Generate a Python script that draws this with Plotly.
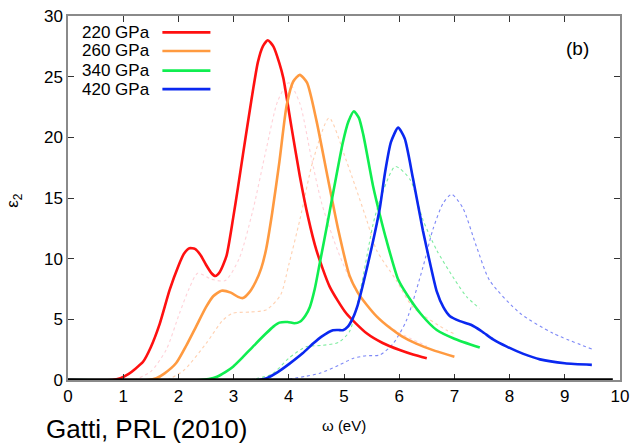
import plotly.graph_objects as go

# Solid curves: epsilon_2 vs photon energy for each pressure
red_x = [0, 0.8, 0.95, 1.1, 1.2, 1.36, 1.5, 1.66, 1.84, 2.0, 2.1, 2.2, 2.3, 2.4, 2.5, 2.6, 2.67, 2.75, 2.87, 2.99,
         3.08, 3.17, 3.32, 3.44, 3.53, 3.62, 3.72, 3.83, 3.9, 4.05, 4.2, 4.35, 4.5, 4.74, 5.04, 5.41, 5.7, 6.01, 6.25, 6.5]
red_y = [0, 0, 0.15, 0.5, 0.85, 1.5, 2.7, 4.6, 7.4, 9.4, 10.4, 10.86, 10.8, 10.3, 9.5, 8.8, 8.57, 8.9, 10.2, 13.3,
         15.9, 18.6, 23.0, 26.2, 27.5, 28.0, 27.5, 26.1, 24.9, 20.8, 16.8, 13.4, 10.7, 7.7, 5.5, 3.85, 3.05, 2.47, 2.1, 1.79]

orange_x = [0, 1.45, 1.6, 1.75, 1.96, 2.15, 2.32, 2.5, 2.63, 2.78, 2.95, 3.08, 3.17, 3.28, 3.4, 3.5, 3.59, 3.7, 3.83,
            3.96, 4.08, 4.2, 4.33, 4.5, 4.7, 4.9, 5.1, 5.25, 5.41, 5.6, 5.83, 6.05, 6.31, 6.65, 7.0]
orange_y = [0, 0, 0.15, 0.55, 1.4, 2.9, 4.4, 6.0, 6.9, 7.36, 7.2, 6.85, 6.75, 7.2, 8.1, 9.2, 10.8, 13.8, 18.0,
            22.6, 24.6, 25.15, 24.5, 21.4, 16.8, 12.3, 8.6, 7.2, 6.2, 5.2, 4.3, 3.6, 3.0, 2.4, 1.92]

green_x = [0, 2.4, 2.55, 2.7, 2.85, 2.99, 3.17, 3.35, 3.59, 3.72, 3.83, 3.98, 4.1, 4.2, 4.3, 4.38, 4.47, 4.56, 4.72,
           4.86, 4.98, 5.08, 5.18, 5.27, 5.35, 5.53, 5.65, 5.77, 5.98, 6.16, 6.4, 6.68, 7.0, 7.46]
green_y = [0, 0, 0.08, 0.27, 0.65, 1.1, 1.9, 2.75, 3.85, 4.4, 4.73, 4.78, 4.68, 4.8, 5.3, 6.0, 7.5, 9.6, 13.4,
           16.8, 19.6, 21.3, 22.15, 21.6, 20.2, 15.9, 13.6, 11.5, 8.3, 6.9, 5.4, 4.12, 3.4, 2.67]

blue_x = [0, 3.45, 3.6, 3.8, 4.02, 4.25, 4.44, 4.6, 4.8, 4.9, 4.98, 5.07, 5.16, 5.25, 5.35, 5.5, 5.65, 5.74, 5.85,
          5.98, 6.1, 6.25, 6.43, 6.55, 6.68, 6.8, 6.92, 7.1, 7.3, 7.5, 7.7, 7.95, 8.25, 8.55, 9.0, 9.49]
blue_y = [0, 0, 0.15, 0.65, 1.37, 2.2, 3.0, 3.6, 4.1, 4.12, 4.1, 4.4, 5.1, 6.2, 7.97, 10.9, 14.2, 17.0, 19.6,
          20.8, 19.9, 16.6, 12.3, 9.8, 7.3, 6.0, 5.25, 4.85, 4.55, 4.0, 3.35, 2.75, 2.15, 1.7, 1.38, 1.25]

# Dotted companion curves
red_dot_x = [1.2, 1.5, 1.78, 2.02, 2.2, 2.35, 2.6, 2.85, 3.1, 3.35, 3.59, 3.8, 4.0, 4.2, 4.4, 4.6, 4.9, 5.2, 5.6, 6.0, 6.5]
red_dot_y = [0, 0.7, 2.5, 5.5, 7.6, 8.8, 8.3, 8.2, 10.0, 14.0, 19.0, 23.0, 24.5, 22.8, 18.5, 14.5, 10.5, 7.5, 5.2, 3.9, 2.8]

orange_dot_x = [1.8, 2.1, 2.5, 2.8, 2.98, 3.3, 3.6, 3.85, 4.0, 4.2, 4.44, 4.73, 5.04, 5.41, 5.59, 5.95, 6.25, 6.86, 7.0]
orange_dot_y = [0, 0.8, 3.0, 4.9, 5.5, 5.6, 5.8, 7.0, 9.5, 13.2, 18.1, 21.6, 18.1, 13.2, 10.7, 8.2, 6.0, 4.1, 3.8]

green_dot_x = [3.3, 3.7, 4.0, 4.32, 4.6, 4.9, 5.1, 5.3, 5.53, 5.65, 5.93, 6.2, 6.43, 6.68, 7.0, 7.22, 7.46]
green_dot_y = [0, 0.5, 1.8, 2.75, 2.85, 3.1, 4.0, 7.5, 12.9, 14.8, 17.6, 16.5, 13.2, 10.7, 8.3, 6.87, 5.9]

blue_dot_x = [3.9, 4.3, 4.56, 4.9, 5.16, 5.4, 5.65, 5.89, 6.13, 6.43, 6.61, 6.8, 6.95, 7.15, 7.4, 7.64, 8.19, 8.79, 9.49]
blue_dot_y = [0, 0.3, 0.55, 1.2, 1.78, 2.0, 2.06, 3.0, 4.9, 9.3, 12.4, 14.6, 15.3, 14.2, 11.0, 8.2, 5.5, 3.85, 2.55]

labels = ["220 GPa", "260 GPa", "340 GPa", "420 GPa"]
colors = ["#ff1010", "#ff9a40", "#10ee50", "#0a28f0"]
dot_colors = ["rgba(255,70,100,0.25)", "rgba(255,150,80,0.45)", "rgba(20,220,80,0.55)", "rgba(20,40,240,0.55)"]

x_ticks = list(range(0, 11))
y_ticks = [0, 5, 10, 15, 20, 25, 30]

FONT = "Liberation Sans, Arial, sans-serif"

fig = go.Figure()

dotted = [(red_dot_x, red_dot_y), (orange_dot_x, orange_dot_y),
          (green_dot_x, green_dot_y), (blue_dot_x, blue_dot_y)]
for (xs, ys), c in zip(dotted, dot_colors):
    fig.add_trace(go.Scatter(x=xs, y=ys, mode="lines",
                             line=dict(color=c, width=1.1, dash="dot", shape="spline", smoothing=0.7),
                             showlegend=False, hoverinfo="skip"))

solid = [(red_x, red_y), (orange_x, orange_y), (green_x, green_y), (blue_x, blue_y)]
for (xs, ys), c, lab in zip(solid, colors, labels):
    fig.add_trace(go.Scatter(x=xs, y=ys, mode="lines", name=lab,
                             line=dict(color=c, width=2.6, shape="spline", smoothing=0.6),
                             showlegend=False))

shapes = [
    # thick baseline at zero
    dict(type="line", xref="x", yref="y", x0=0, x1=9.87, y0=0, y1=0,
         line=dict(color="black", width=3.5), layer="above"),
]

annotations = []
leg_y = [0.955, 0.904, 0.850, 0.799]
for lab, c, yy in zip(labels, colors, leg_y):
    annotations.append(dict(xref="paper", yref="paper", x=0.152, y=yy, text=lab,
                            showarrow=False, xanchor="right", yanchor="middle",
                            font=dict(family=FONT, size=17, color="black")))
    shapes.append(dict(type="line", xref="paper", yref="paper", x0=0.171, x1=0.258,
                       y0=yy, y1=yy, line=dict(color=c, width=2.6)))

annotations += [
    dict(xref="paper", yref="paper", x=0.923, y=0.911, text="(b)", showarrow=False,
         xanchor="center", yanchor="middle", font=dict(family=FONT, size=19, color="black")),
    dict(xref="paper", yref="paper", x=0.5, y=-0.126, text="ω (eV)", showarrow=False,
         xanchor="center", yanchor="middle", font=dict(family=FONT, size=15, color="black")),
    dict(xref="paper", yref="paper", x=-0.098, y=0.495, text="ε<sub>2</sub>", showarrow=False,
         textangle=-90, xanchor="center", yanchor="middle",
         font=dict(family=FONT, size=17, color="black")),
    dict(xref="paper", yref="paper", x=-0.043, y=-0.135, text="Gatti, PRL (2010)", showarrow=False,
         xanchor="left", yanchor="middle", font=dict(family=FONT, size=26, color="black")),
]

fig.update_layout(
    width=633, height=444,
    margin=dict(l=68, r=13, t=16, b=64),
    paper_bgcolor="white", plot_bgcolor="white",
    shapes=shapes, annotations=annotations,
    font=dict(family=FONT, size=17, color="black"),
    xaxis=dict(range=[0, 10], tickvals=x_ticks, ticks="inside", ticklen=6, tickwidth=1.2,
               tickcolor="#333333", showline=True, linecolor="#8a8a8a", linewidth=1.5,
               mirror="ticks", showgrid=False, zeroline=False, automargin=False,
               tickfont=dict(family=FONT, size=17)),
    yaxis=dict(range=[0, 30], tickvals=y_ticks, ticks="inside", ticklen=6, tickwidth=1.2,
               tickcolor="#333333", showline=True, linecolor="#8a8a8a", linewidth=1.5,
               mirror="ticks", showgrid=False, zeroline=False, automargin=False,
               tickfont=dict(family=FONT, size=17)),
)

fig.write_html("out.html")
